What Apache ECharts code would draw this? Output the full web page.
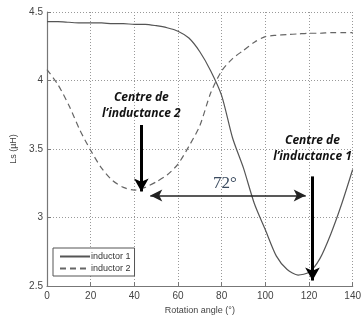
<!DOCTYPE html>
<html><head><meta charset="utf-8">
<script src="https://cdn.jsdelivr.net/npm/echarts@6/dist/echarts.min.js"></script>
<style>html,body{margin:0;padding:0;background:#fff}#c{width:364px;height:320px}</style>
</head><body><div id="c"></div>
<script>
var angles = [0,5,10,15,20,25,30,35,40,45,50,55,60,65,70,75,80,85,90,95,100,105,110,115,120,125,130,135,140];
var inductor1 = [4.43,4.43,4.425,4.42,4.42,4.42,4.415,4.415,4.41,4.41,4.40,4.385,4.36,4.31,4.21,4.07,3.89,3.58,3.36,3.10,2.91,2.72,2.62,2.58,2.60,2.70,2.88,3.10,3.35];
var inductor2 = [4.08,3.97,3.82,3.64,3.49,3.36,3.27,3.22,3.20,3.22,3.26,3.31,3.39,3.52,3.67,3.91,4.07,4.16,4.22,4.28,4.32,4.33,4.335,4.34,4.345,4.345,4.35,4.35,4.35];
var xTicks = [0,20,40,60,80,100,120,140];
var yTicks = [2.5,3,3.5,4,4.5];
var seriesNames = ['inductor 1','inductor 2'];
var centre2 = {x:43.2, yTop:3.675, yBot:3.19, label:'Centre de\nl\u2019inductance 2', ly:3.82};
var centre1 = {x:121.6, yTop:3.30, yBot:2.54, label:'Centre de\nl\u2019inductance 1', ly:3.50};
var gap = {x1:47.3, x2:118.5, y:3.16, label:'72\u00b0', lx:81.5, ly:3.245};

var chart = echarts.init(document.getElementById('c'), null, {renderer:'canvas'});
function pair(a,b){return angles.map(function(x,i){return [x,b[i]];});}
var axisText = {color:'#444', fontSize:10, fontFamily:'Liberation Sans, Arial, sans-serif'};
chart.setOption({
  animation:false,
  grid:{left:47, right:5, top:12, bottom:34, show:false},
  legend:{
    data:seriesNames, left:53, top:248, orient:'vertical',
    itemWidth:30, itemHeight:8, itemGap:3,
    itemStyle:{opacity:0},
    padding:[4,4,3,6], borderColor:'#555', borderWidth:1, backgroundColor:'#fff',
    textStyle:{fontSize:9, color:'#333', fontFamily:'Liberation Sans, Arial, sans-serif', padding:[0,0,0,-4]}
  },
  xAxis:{
    type:'value', min:xTicks[0], max:xTicks[xTicks.length-1], interval:20,
    name:'Rotation angle (\u00b0)', nameLocation:'middle', nameGap:18,
    nameTextStyle:{fontSize:9, color:'#444', fontFamily:'Liberation Sans, Arial, sans-serif'},
    axisLine:{lineStyle:{color:'#777', width:1.2}},
    axisTick:{inside:true, length:4, lineStyle:{color:'#777'}},
    axisLabel:Object.assign({margin:5}, axisText),
    splitLine:{show:true, lineStyle:{type:[1,2], color:'#999', width:1}}
  },
  yAxis:{
    type:'value', min:yTicks[0], max:yTicks[yTicks.length-1], interval:0.5,
    name:'Ls (\u00b5H)', nameLocation:'middle', nameGap:21, nameRotate:90,
    nameTextStyle:{fontSize:9, color:'#444', fontFamily:'Liberation Sans, Arial, sans-serif'},
    axisLine:{show:true, lineStyle:{color:'#777', width:1.2}},
    axisTick:{show:true, inside:true, length:4, lineStyle:{color:'#777'}},
    axisLabel:Object.assign({margin:4}, axisText),
    splitLine:{show:true, lineStyle:{type:[1,2], color:'#999', width:1}}
  },
  series:[
    {name:seriesNames[0], type:'line', data:pair(angles,inductor1), symbol:'none', smooth:0.25,
     lineStyle:{color:'#555', width:1.2}, itemStyle:{color:'#555'},
     markLine:{silent:true, symbol:['none','arrow'], symbolSize:[11,13], label:{show:false},
       lineStyle:{color:'#000', width:3, type:'solid'},
       data:[
         [{coord:[centre2.x,centre2.yTop]},{coord:[centre2.x,centre2.yBot]}],
         [{coord:[centre1.x,centre1.yTop]},{coord:[centre1.x,centre1.yBot]}]
       ]},
     markPoint:{silent:true, symbol:'circle', symbolSize:0,
       label:{show:true, color:'#111', fontSize:12, fontWeight:'bold', fontStyle:'italic', lineHeight:16,
              fontFamily:'Open Sans, Liberation Sans, sans-serif', align:'center'},
       data:[
         {coord:[centre2.x,centre2.ly], value:centre2.label, label:{formatter:centre2.label}},
         {coord:[centre1.x,centre1.ly], value:centre1.label, label:{formatter:centre1.label}}
       ]}
    },
    {name:seriesNames[1], type:'line', data:pair(angles,inductor2), symbol:'none', smooth:0.25,
     lineStyle:{color:'#666', width:1.2, type:[6,4]}, itemStyle:{color:'#666'},
     markLine:{silent:true, symbol:['arrow','arrow'], symbolSize:[9,12], label:{show:false},
       lineStyle:{color:'#222', width:1.5, type:'solid'},
       data:[[{coord:[gap.x1,gap.y]},{coord:[gap.x2,gap.y]}]]},
     markPoint:{silent:true, symbol:'circle', symbolSize:0,
       label:{show:true, color:'#3a4a5e', fontSize:17, fontFamily:'Liberation Serif, serif', align:'center', formatter:gap.label},
       data:[{coord:[gap.lx,gap.ly], value:gap.label}]}
    }
  ]
});
</script></body></html>
